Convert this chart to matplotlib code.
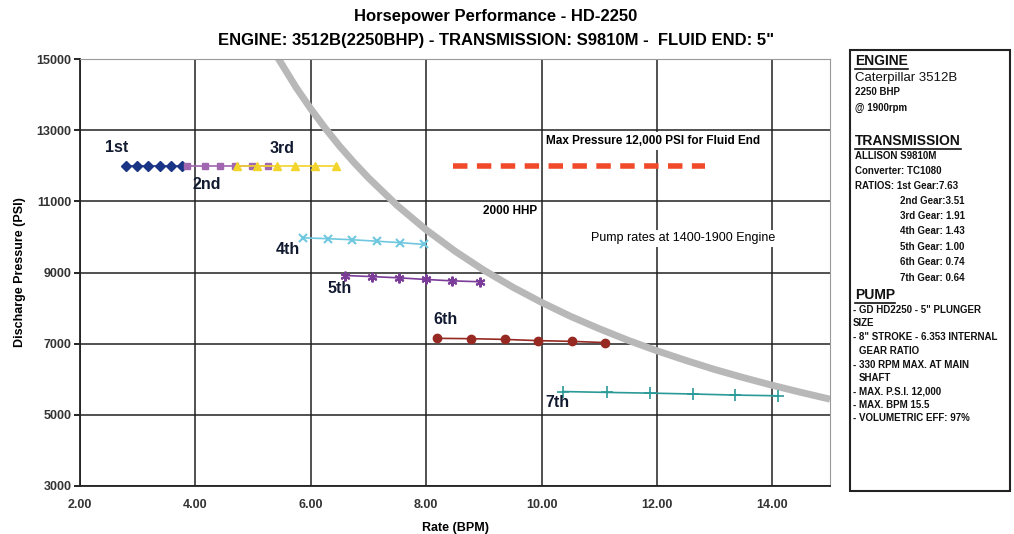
import matplotlib
matplotlib.use("Agg")
import matplotlib.pyplot as plt
from matplotlib.lines import Line2D
from matplotlib.patches import Rectangle

plt.rcParams['font.family'] = ['Liberation Sans', 'DejaVu Sans']

# gear curves (rate BPM, pressure PSI)
gear1_rate = [2.80, 2.98, 3.18, 3.38, 3.57, 3.77]
gear1_psi = [12000, 12000, 12000, 12000, 12000, 12000]
gear2_rate = [3.86, 4.17, 4.43, 4.68, 4.98, 5.25]
gear2_psi = [12000, 12000, 12000, 12000, 12000, 12000]
gear3_rate = [4.72, 5.06, 5.41, 5.73, 6.08, 6.43]
gear3_psi = [12000, 12000, 12000, 12000, 12000, 12000]
gear4_rate = [5.87, 6.29, 6.72, 7.14, 7.54, 7.96]
gear4_psi = [9975, 9950, 9920, 9880, 9840, 9790]
gear5_rate = [6.60, 7.06, 7.53, 7.99, 8.45, 8.93]
gear5_psi = [8915, 8885, 8850, 8805, 8765, 8740]
gear6_rate = [8.19, 8.77, 9.36, 9.94, 10.52, 11.10]
gear6_psi = [7150, 7140, 7120, 7085, 7065, 7030]
gear7_rate = [10.37, 11.14, 11.88, 12.63, 13.36, 14.10]
gear7_psi = [5655, 5630, 5610, 5585, 5555, 5535]

# 2000 HHP curve
hhp_rate = [5.40, 5.75, 6.0, 6.25, 6.5, 6.75, 7.0, 7.5, 8.0, 8.5, 9.0, 9.5, 10.0,
            10.5, 11.0, 11.5, 12.0, 12.5, 13.0, 13.5, 14.0, 14.5, 15.0]
hhp_psi = [15110, 14190, 13600, 13055, 12550, 12090, 11660, 10880, 10200, 9600,
           9065, 8590, 8160, 7770, 7420, 7095, 6800, 6530, 6275, 6045, 5830, 5630, 5440]

max_rate = [8.47, 12.83]
max_psi = [12000, 12000]

gear_labels = ["1st", "2nd", "3rd", "4th", "5th", "6th", "7th"]
label_pos = [(2.63, 12520), (4.2, 11480), (5.5, 12490), (5.61, 9650),
             (6.5, 8550), (8.34, 7680), (10.28, 5340)]

x_ticks = [2, 4, 6, 8, 10, 12, 14]
y_ticks = [3000, 5000, 7000, 9000, 11000, 13000, 15000]

fig = plt.figure(figsize=(10.14, 5.34), dpi=100)
ax = fig.add_axes([80 / 1014, 1 - 486 / 534, 750 / 1014, 427 / 534])

ax.plot(hhp_rate, hhp_psi, color="#b8b8b8", lw=5, solid_capstyle="butt", zorder=2)
ax.plot(max_rate, max_psi, color="#f04a2a", lw=4, dashes=(2.6, 1.7), zorder=3)

ax.plot(gear1_rate, gear1_psi, color="#1a3585", marker="D", ms=5, lw=1.2, zorder=4)
ax.plot(gear2_rate, gear2_psi, color="#a066b0", marker="s", ms=5, lw=1.2, zorder=4)
ax.plot(gear3_rate, gear3_psi, color="#f2d42a", marker="^", ms=6, lw=1.2, zorder=5)
ax.plot(gear4_rate, gear4_psi, color="#70c8e0", marker="x", ms=5.5, mew=1.5, lw=1.2, zorder=4)
ax.plot(gear5_rate, gear5_psi, color="#7a3c98", marker=(6, 2, 0), ms=7, mew=1.5, lw=1.2, zorder=4)
ax.plot(gear6_rate, gear6_psi, color="#962a22", marker="o", ms=6, lw=1.2, zorder=4)
ax.plot(gear7_rate, gear7_psi, color="#2a9a98", marker="+", ms=8, mew=1.2, lw=1.2, zorder=4)

for lab, (lx, ly) in zip(gear_labels, label_pos):
    ax.text(lx, ly, lab, fontsize=11.5, fontweight="bold", color="#111a30",
            ha="center", va="center", zorder=6)

white = dict(facecolor="white", edgecolor="none", pad=2)
ax.text(11.93, 12700, "Max Pressure 12,000 PSI for Fluid End", fontsize=8.5,
        fontweight="bold", ha="center", va="center", bbox=white, zorder=6)
ax.text(9.45, 10730, "2000 HHP", fontsize=8.5, fontweight="bold",
        ha="center", va="center", bbox=white, zorder=6)
ax.text(12.45, 9960, "Pump rates at 1400-1900 Engine", fontsize=9,
        ha="center", va="center", bbox=white, zorder=6)

ax.set_xlim(2, 15)
ax.set_ylim(3000, 15000)
ax.set_xticks(x_ticks)
ax.set_xticklabels([f"{t:.2f}" for t in x_ticks])
ax.set_yticks(y_ticks)
ax.grid(True, color="#222222", lw=1.1, zorder=1)
ax.set_axisbelow(True)
for s in ["top", "right"]:
    ax.spines[s].set_color("#999999")
for s in ["left", "bottom"]:
    ax.spines[s].set_color("#222222")
    ax.spines[s].set_linewidth(1.3)
ax.tick_params(axis="y", length=4, width=1.2, labelsize=9, pad=2)
ax.tick_params(axis="x", length=0, labelsize=9, pad=9)
for t in ax.get_xticklabels() + ax.get_yticklabels():
    t.set_fontweight("bold")
    t.set_color("#333333")

ax.set_xlabel("Rate (BPM)", fontsize=9, fontweight="bold", labelpad=8)
ax.set_ylabel("Discharge Pressure (PSI)", fontsize=9, fontweight="bold", labelpad=8)

title_font = ["Liberation Sans Narrow", "Liberation Sans", "DejaVu Sans"]
fig.text(496 / 1014, 1 - 17 / 534, "Horsepower Performance - HD-2250",
         fontsize=12, fontweight="bold", ha="center", va="center", family=title_font)
fig.text(496 / 1014, 1 - 40 / 534,
         'ENGINE: 3512B(2250BHP) - TRANSMISSION: S9810M -  FLUID END: 5"',
         fontsize=12, fontweight="bold", ha="center", va="center", family=title_font)

# info box on the right
fig.add_artist(Rectangle((850 / 1014, 1 - 491 / 534), 160 / 1014, 441 / 534,
                         transform=fig.transFigure, fill=False, edgecolor="#222222", lw=1.5))

box_lines = [
    (855, 61, "ENGINE", 10, "bold", True),
    (855, 78, "Caterpillar 3512B", 9.5, "normal", False),
    (855, 92, "2250 BHP", 7, "bold", False),
    (855, 108, "@ 1900rpm", 7, "bold", False),
    (855, 141, "TRANSMISSION", 10, "bold", True),
    (855, 156, "ALLISON S9810M", 7, "bold", False),
    (855, 171, "Converter: TC1080", 7, "bold", False),
    (855, 186, "RATIOS: 1st Gear:7.63", 7, "bold", False),
    (900, 201, "2nd Gear:3.51", 7, "bold", False),
    (900, 216, "3rd Gear: 1.91", 7, "bold", False),
    (900, 231, "4th Gear: 1.43", 7, "bold", False),
    (900, 247, "5th Gear: 1.00", 7, "bold", False),
    (900, 262, "6th Gear: 0.74", 7, "bold", False),
    (900, 278, "7th Gear: 0.64", 7, "bold", False),
    (855, 295, "PUMP", 10, "bold", True),
    (853, 310, '- GD HD2250 - 5" PLUNGER', 7, "bold", False),
    (853, 323, "SIZE", 7, "bold", False),
    (853, 337, '- 8" STROKE - 6.353 INTERNAL', 7, "bold", False),
    (859, 351, "GEAR RATIO", 7, "bold", False),
    (853, 365, "- 330 RPM MAX. AT MAIN", 7, "bold", False),
    (859, 378, "SHAFT", 7, "bold", False),
    (853, 392, "- MAX. P.S.I. 12,000", 7, "bold", False),
    (853, 405, "- MAX. BPM 15.5", 7, "bold", False),
    (853, 418, "- VOLUMETRIC EFF: 97%", 7, "bold", False),
]

fig.canvas.draw()
renderer = fig.canvas.get_renderer()
for px, py, txt, fs, fw, under in box_lines:
    t = fig.text(px / 1014, 1 - py / 534, txt, fontsize=fs, fontweight=fw,
                 ha="left", va="center", color="#111111")
    if under:
        bb = t.get_window_extent(renderer=renderer)
        uy = (bb.y0 - 1) / 534
        fig.add_artist(Line2D([bb.x0 / 1014, bb.x1 / 1014], [uy, uy],
                              transform=fig.transFigure, color="#111111", lw=1.2))

fig.savefig("out.png", dpi=100)
